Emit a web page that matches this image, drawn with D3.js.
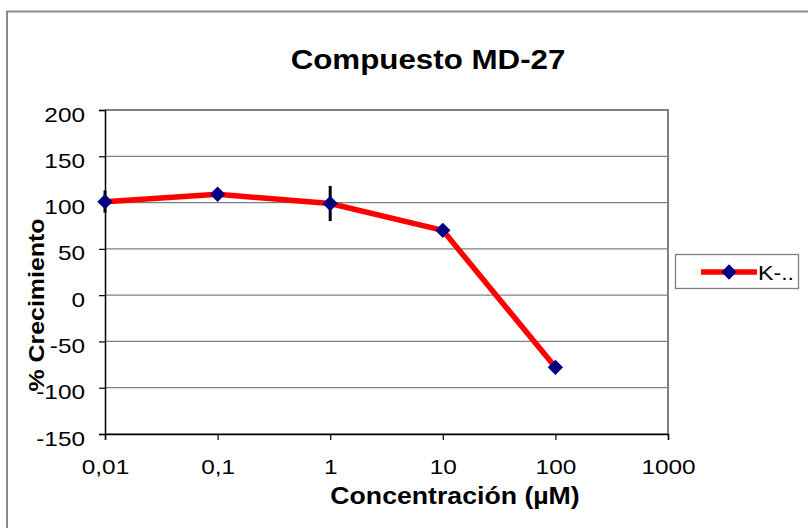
<!DOCTYPE html>
<html>
<head>
<meta charset="utf-8">
<script src="https://cdn.jsdelivr.net/npm/d3@7/dist/d3.min.js"></script>
<style>
  html, body { margin: 0; padding: 0; background: #fff; }
  svg { display: block; font-family: "Liberation Sans", Arial, sans-serif; }
</style>
</head>
<body>
<svg id="chart" width="808" height="528"></svg>
<script>
// Dose-response data for compound MD-27
const concentrations = [0.01, 0.1, 1, 10, 100];
const growth = [101, 109, 99, 70, -78];
const growthError = [12, 3, 19, 3, 2];
const seriesName = "K-..";
const xTickValues = [0.01, 0.1, 1, 10, 100, 1000];
const xTickLabels = ["0,01", "0,1", "1", "10", "100", "1000"];
const yTickValues = [-150, -100, -50, 0, 50, 100, 150, 200];

const svg = d3.select("#chart");
const WIDE = 1.16; // horizontal widening of the lettering

// text placed at (x, y) and widened about its anchor point
function label(parent, x, y, txt, size, opts = {}) {
  return parent.append("text")
    .attr("transform", `translate(${x},${y}) scale(${WIDE},1)`)
    .attr("text-anchor", opts.anchor || "start")
    .attr("font-size", size)
    .attr("font-weight", opts.bold ? "bold" : "normal")
    .attr("fill", "#000")
    .text(txt);
}

// outer chart frame
svg.append("path")
  .attr("d", "M7,528 V11.5 H808")
  .attr("fill", "none")
  .attr("stroke", "#8c8c8c")
  .attr("stroke-width", 2);

const plot = { left: 105, right: 668, top: 110, bottom: 434 };

const x = d3.scaleLog().domain([0.01, 1000]).range([plot.left, plot.right]);
const y = d3.scaleLinear().domain([-150, 200]).range([plot.bottom, plot.top]);

// horizontal gridlines
svg.append("g")
  .selectAll("line")
  .data(yTickValues)
  .join("line")
  .attr("x1", plot.left).attr("x2", plot.right)
  .attr("y1", d => y(d)).attr("y2", d => y(d))
  .attr("stroke", "#808080")
  .attr("stroke-width", 1.3);

// plot area right/top border
svg.append("path")
  .attr("d", `M${plot.left},${plot.top} H${plot.right} V${plot.bottom}`)
  .attr("fill", "none")
  .attr("stroke", "#808080")
  .attr("stroke-width", 2);

// y axis
const yAxis = svg.append("g")
  .attr("transform", `translate(${plot.left},0)`)
  .call(d3.axisLeft(y).tickValues(yTickValues).tickSize(6).tickFormat(d => d < 0 ? "-" + Math.abs(d) : d));
yAxis.select(".domain").attr("stroke", "#000").attr("stroke-width", 1.5);
yAxis.selectAll(".tick line").attr("stroke", "#000").attr("stroke-width", 1.2);
yAxis.selectAll(".tick text")
  .attr("font-size", 21)
  .attr("fill", "#000")
  .attr("x", null).attr("dy", null)
  .attr("transform", `translate(-20,11) scale(${WIDE},1)`);

// x axis
const xAxis = svg.append("g")
  .attr("transform", `translate(0,${plot.bottom})`)
  .call(d3.axisBottom(x).tickValues(xTickValues).tickSize(6)
    .tickFormat((d, i) => xTickLabels[i]));
xAxis.select(".domain").attr("stroke", "#000").attr("stroke-width", 1.5);
xAxis.selectAll(".tick line").attr("stroke", "#000").attr("stroke-width", 1.2);
xAxis.selectAll(".tick text")
  .attr("font-size", 21)
  .attr("fill", "#000")
  .attr("y", null).attr("dy", null)
  .attr("transform", `translate(0,40) scale(${WIDE},1)`);

// title
label(svg, 428, 69, "Compuesto MD-27", 27, { anchor: "middle", bold: true });

// axis titles
label(svg, 455, 504, "Concentración (µM)", 23, { anchor: "middle", bold: true });

svg.append("text")
  .attr("transform", `translate(44,305) rotate(-90) scale(${WIDE},1)`)
  .attr("text-anchor", "middle")
  .attr("font-size", 21.5).attr("font-weight", "bold")
  .text("% Crecimiento");

const data = concentrations.map((c, i) => ({ c, v: growth[i], e: growthError[i] }));

// series line
svg.append("path")
  .datum(data)
  .attr("fill", "none")
  .attr("stroke", "#ff0000")
  .attr("stroke-width", 5.5)
  .attr("stroke-linejoin", "round")
  .attr("d", d3.line().x(d => x(d.c)).y(d => y(d.v)));

// error bars
svg.append("g")
  .selectAll("line")
  .data(data)
  .join("line")
  .attr("x1", d => x(d.c)).attr("x2", d => x(d.c))
  .attr("y1", d => y(d.v + d.e)).attr("y2", d => y(d.v - d.e))
  .attr("stroke", "#000").attr("stroke-width", 3);

// diamond markers
const diamond = d3.symbol().type(d3.symbolDiamond2).size(150);
svg.append("g")
  .selectAll("path")
  .data(data)
  .join("path")
  .attr("transform", d => `translate(${x(d.c)},${y(d.v)})`)
  .attr("d", diamond)
  .attr("fill", "#000080");

// legend
const legend = svg.append("g");
legend.append("rect")
  .attr("x", 675.5).attr("y", 254.5).attr("width", 123).attr("height", 34)
  .attr("fill", "#fff").attr("stroke", "#808080").attr("stroke-width", 1.3);
legend.append("line")
  .attr("x1", 701).attr("x2", 757).attr("y1", 272).attr("y2", 272)
  .attr("stroke", "#ff0000").attr("stroke-width", 5.5);
legend.append("path")
  .attr("transform", "translate(729,272)")
  .attr("d", diamond)
  .attr("fill", "#000080");
label(legend, 758, 280, seriesName, 20);
</script>
</body>
</html>
